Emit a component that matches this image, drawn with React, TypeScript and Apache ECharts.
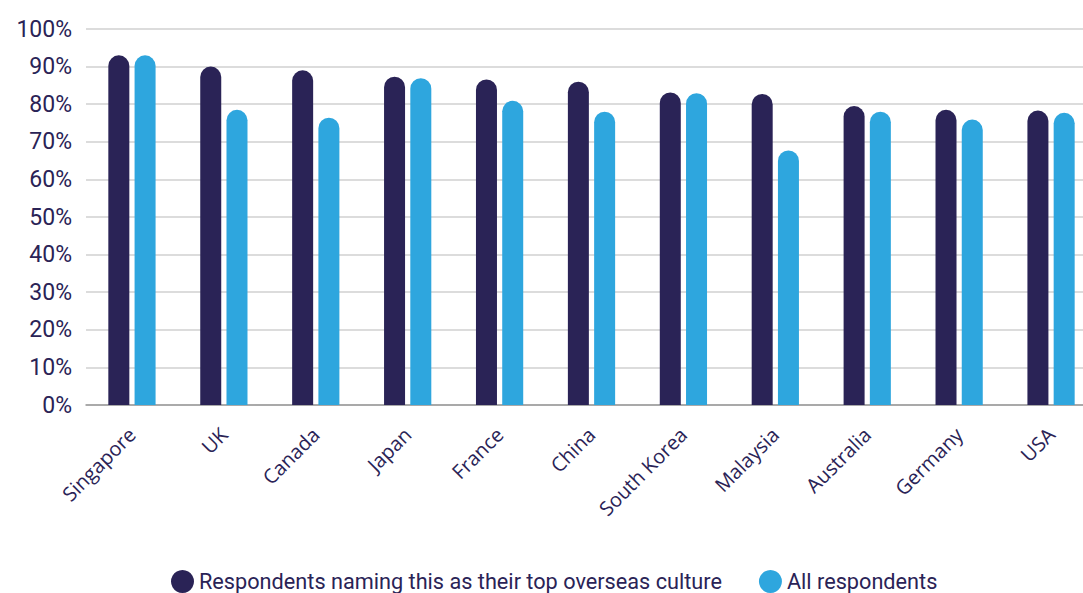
import React, { useEffect, useRef } from "react";
import * as echarts from "echarts";

const categories = ["Singapore", "UK", "Canada", "Japan", "France", "China", "South Korea", "Malaysia", "Australia", "Germany", "USA"];
const topCulture = [93, 90, 89, 87.3, 86.6, 86, 83.1, 82.7, 79.5, 78.5, 78.3];
const allRespondents = [93, 78.5, 76.4, 86.9, 80.9, 78, 82.9, 67.7, 78, 75.9, 77.7];
const seriesNames = ["Respondents naming this as their top overseas culture", "All respondents"];

const NAVY = "#2a2356";
const BLUE = "#2ea6de";

export default function App() {
  const ref = useRef<HTMLDivElement>(null);
  useEffect(() => {
    const chart = echarts.init(ref.current!, null, { renderer: "svg" });
    chart.setOption({
      animation: false,
      grid: { left: 86, right: 0, top: 29, bottom: 188, containLabel: false },
      legend: {
        bottom: -5,
        left: 166,
        icon: "circle",
        itemWidth: 23,
        itemHeight: 23,
        itemGap: 37,
        textStyle: { fontFamily: "Roboto", fontSize: 21.7, color: NAVY },
        data: seriesNames,
      },
      xAxis: {
        type: "category",
        data: categories,
        axisLine: { lineStyle: { color: "#999999", width: 1.5 } },
        axisTick: { show: false },
        axisLabel: { rotate: 45, interval: 0, margin: 26, fontFamily: "Open Sans", fontSize: 20, color: NAVY },
      },
      yAxis: {
        type: "value",
        min: 0,
        max: 100,
        interval: 10,
        axisLine: { show: false },
        axisTick: { show: false },
        splitLine: { lineStyle: { color: "#dcdcdc", width: 2 } },
        axisLabel: { formatter: "{value}%", margin: 14, fontFamily: "Roboto", fontSize: 23, color: NAVY },
      },
      series: [
        {
          name: seriesNames[0],
          type: "bar",
          data: topCulture,
          barWidth: 21,
          barGap: "25%",
          itemStyle: { color: NAVY, borderRadius: [10.5, 10.5, 0, 0] },
        },
        {
          name: seriesNames[1],
          type: "bar",
          data: allRespondents,
          barWidth: 21,
          itemStyle: { color: BLUE, borderRadius: [10.5, 10.5, 0, 0] },
        },
      ],
    });
    return () => chart.dispose();
  }, []);
  return (
    <div style={{ position: "absolute", left: 0, top: 0, width: 1083, height: 593, overflow: "hidden" }}>
      <div ref={ref} style={{ width: 1097, height: 593 }} />
    </div>
  );
}
